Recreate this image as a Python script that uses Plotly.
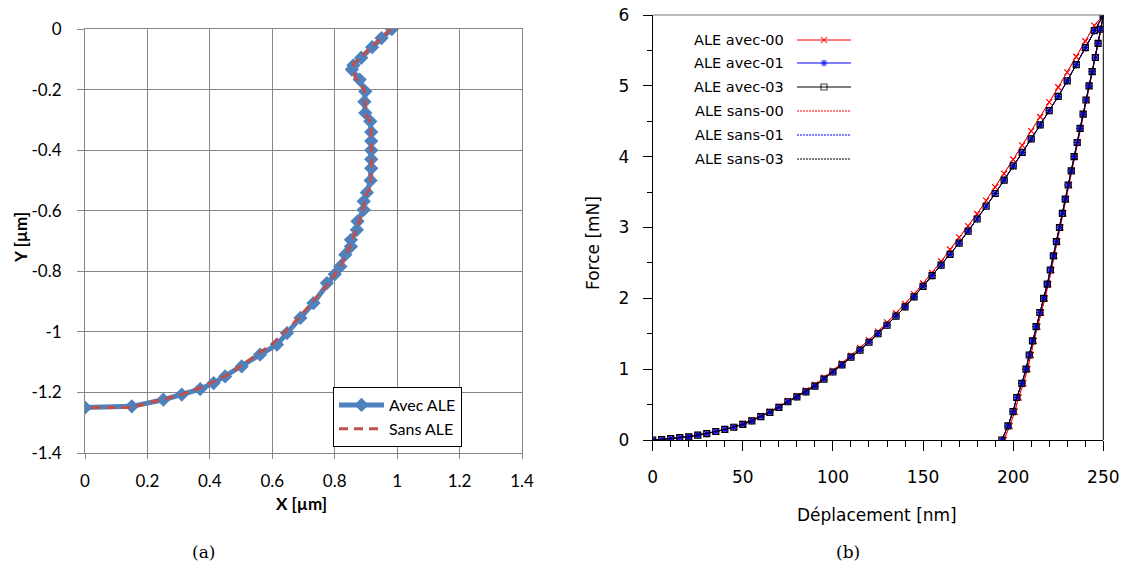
import plotly.graph_objects as go

# ---------------- (a) profile data ----------------
X_AVEC = [0.983, 0.95, 0.92, 0.885, 0.86, 0.855, 0.88, 0.898, 0.895, 0.898, 0.914, 0.917, 0.917,
          0.917, 0.917, 0.917, 0.915, 0.903, 0.893, 0.893, 0.873, 0.871, 0.852, 0.852, 0.834,
          0.818, 0.80, 0.775, 0.732, 0.69, 0.647, 0.615, 0.561, 0.502, 0.449, 0.412, 0.369,
          0.31, 0.251, 0.15, 0.0]
Y_AVEC = [0.0, -0.03, -0.06, -0.095, -0.12, -0.134, -0.167, -0.206, -0.24, -0.277, -0.305, -0.34,
          -0.37, -0.40, -0.43, -0.46, -0.50, -0.54, -0.569, -0.597, -0.635, -0.663, -0.696, -0.718,
          -0.745, -0.784, -0.81, -0.839, -0.905, -0.954, -1.004, -1.042, -1.075, -1.114, -1.147,
          -1.169, -1.189, -1.207, -1.224, -1.246, -1.25]
X_SANS = [0.98, 0.86, 0.865, 0.895, 0.90, 0.915, 0.918, 0.915, 0.90, 0.89, 0.87, 0.848, 0.82, 0.78,
          0.73, 0.67, 0.60, 0.53, 0.46, 0.38, 0.30, 0.20, 0.15, 0.0]
Y_SANS = [0.0, -0.115, -0.16, -0.20, -0.28, -0.31, -0.42, -0.52, -0.55, -0.60, -0.66, -0.72, -0.78,
          -0.84, -0.90, -0.97, -1.04, -1.09, -1.14, -1.18, -1.21, -1.235, -1.25, -1.25]
A_XTICKS = [0, 0.2, 0.4, 0.6, 0.8, 1.0, 1.2, 1.4]
A_XTEXT = ["0", "0.2", "0.4", "0.6", "0.8", "1", "1.2", "1.4"]
A_YTICKS = [0, -0.2, -0.4, -0.6, -0.8, -1.0, -1.2, -1.4]
A_YTEXT = ["0", "-0.2", "-0.4", "-0.6", "-0.8", "-1", "-1.2", "-1.4"]

# ---------------- (b) force-displacement data ----------------
DISP_LOAD = [0, 5, 10, 15, 20, 25, 30, 35, 40, 45, 50, 55, 60, 65, 70, 75, 80, 85, 90, 95, 100,
             105, 110, 115, 120, 125, 130, 135, 140, 145, 150, 155, 160, 165, 170, 175, 180, 185,
             190, 195, 200, 205, 210, 215, 220, 225, 230, 235, 240, 245, 250]
F_LOAD_00 = [0, 0.005, 0.02, 0.035, 0.05, 0.07, 0.09, 0.12, 0.15, 0.18, 0.23, 0.28, 0.34, 0.40,
             0.47, 0.55, 0.62, 0.70, 0.78, 0.88, 0.98, 1.08, 1.19, 1.30, 1.41, 1.53, 1.66, 1.79,
             1.92, 2.06, 2.21, 2.36, 2.52, 2.69, 2.86, 3.02, 3.19, 3.38, 3.57, 3.76, 3.96, 4.16,
             4.36, 4.56, 4.77, 4.98, 5.19, 5.41, 5.63, 5.85, 6.0]
F_LOAD = [0, 0.005, 0.02, 0.035, 0.045, 0.07, 0.09, 0.12, 0.15, 0.18, 0.22, 0.27, 0.33, 0.39,
          0.46, 0.54, 0.61, 0.68, 0.76, 0.86, 0.96, 1.06, 1.17, 1.27, 1.38, 1.50, 1.62, 1.75,
          1.88, 2.02, 2.17, 2.32, 2.47, 2.62, 2.78, 2.95, 3.12, 3.30, 3.48, 3.67, 3.87, 4.06,
          4.25, 4.45, 4.65, 4.85, 5.07, 5.30, 5.54, 5.78, 6.0]
F_UNLOAD = [0, 0.2, 0.4, 0.6, 0.8, 1.0, 1.2, 1.4, 1.6, 1.8, 2.0, 2.2, 2.4, 2.6, 2.8, 3.0, 3.2,
            3.4, 3.6, 3.8, 4.0, 4.2, 4.4, 4.6, 4.8, 5.0, 5.2, 5.4, 5.6, 5.8, 6.0]
DISP_UNLOAD = [193.7, 197.1, 199.9, 202.0, 204.8, 207.1, 208.9, 210.7, 212.7, 214.8, 216.9,
               218.9, 220.6, 222.3, 224.0, 225.7, 227.3, 228.9, 230.5, 232.2, 233.8, 235.5,
               237.1, 238.8, 240.4, 242.1, 243.8, 245.6, 247.1, 248.6, 250.0]
DISP_UNLOAD_00 = [194.8, 198.1, 200.9, 203.0, 205.7, 208.0, 209.8, 211.5, 213.5, 215.5, 217.6,
                  219.5, 221.2, 222.9, 224.5, 226.2, 227.8, 229.4, 231.0, 232.6, 234.2, 235.8,
                  237.4, 239.1, 240.7, 242.3, 244.0, 245.7, 247.2, 248.7, 250.0]
B_SERIES = ["ALE avec-00", "ALE avec-01", "ALE avec-03", "ALE sans-00", "ALE sans-01", "ALE sans-03"]
B_COLORS = ["#ff0000", "#0000ff", "#000000", "#ff0000", "#0000ff", "#000000"]
B_SYMBOLS = ["x-thin-open", "asterisk-open", "square-open", None, None, None]

fig = go.Figure()

# ---- (a) traces
fig.add_trace(go.Scatter(x=X_AVEC, y=Y_AVEC, mode="lines+markers", name="Avec ALE",
                         line=dict(color="#4F81BD", width=5),
                         marker=dict(symbol="diamond", size=11, color="#4F81BD"),
                         xaxis="x", yaxis="y", legend="legend"))
fig.add_trace(go.Scatter(x=X_SANS, y=Y_SANS, mode="lines", name="Sans ALE",
                         line=dict(color="#C0504D", width=3, dash="9px,6px"),
                         xaxis="x", yaxis="y", legend="legend"))

# ---- (b) traces
def curve(load_f, unload_d):
    return DISP_LOAD + unload_d[::-1], load_f + F_UNLOAD[::-1]

data_b = [curve(F_LOAD_00, DISP_UNLOAD_00), curve(F_LOAD, DISP_UNLOAD), curve(F_LOAD, DISP_UNLOAD),
          curve(F_LOAD_00, DISP_UNLOAD_00), curve(F_LOAD, DISP_UNLOAD), curve(F_LOAD, DISP_UNLOAD)]
for i in [3, 4, 5, 0, 1, 2]:
    xs, ys = data_b[i]
    if B_SYMBOLS[i]:
        fig.add_trace(go.Scatter(x=xs, y=ys, mode="lines+markers", name=B_SERIES[i], showlegend=False,
                                 line=dict(color=B_COLORS[i], width=1),
                                 marker=dict(symbol=B_SYMBOLS[i], size=6,
                                             line=dict(color=B_COLORS[i], width=1.2)),
                                 xaxis="x2", yaxis="y2"))
    else:
        fig.add_trace(go.Scatter(x=xs, y=ys, mode="lines", name=B_SERIES[i], showlegend=False,
                                 line=dict(color=B_COLORS[i], width=1, dash="2px,1px"),
                                 xaxis="x2", yaxis="y2"))

# ---- (b) hand-made legend (text on the left, sample on the right)
LEG_ROWS = [40, 63, 87, 111, 135, 159]
annotations = []
for i, name in enumerate(B_SERIES):
    row = LEG_ROWS[i]
    if B_SYMBOLS[i]:
        fig.add_trace(go.Scatter(x=[0, 0.5, 1], y=[row] * 3, mode="lines+markers", showlegend=False,
                                 hoverinfo="skip",
                                 line=dict(color=B_COLORS[i], width=1),
                                 marker=dict(symbol=B_SYMBOLS[i], size=[0, 6, 0],
                                             line=dict(color=B_COLORS[i], width=1.2)),
                                 xaxis="x3", yaxis="y3"))
    else:
        fig.add_trace(go.Scatter(x=[0, 1], y=[row] * 2, mode="lines", showlegend=False,
                                 hoverinfo="skip",
                                 line=dict(color=B_COLORS[i], width=1, dash="2px,1px"),
                                 xaxis="x3", yaxis="y3"))
    annotations.append(dict(text=name, xref="paper", yref="paper", x=786 / 1127, y=1 - row / 570,
                            xanchor="right", yanchor="middle", showarrow=False,
                            font=dict(family="DejaVu Sans", size=14.5, color="black")))

W, H = 1127, 570
grid_a = "#868686"
font_a = dict(family="Lato", size=17, color="black")
font_b = dict(family="DejaVu Sans", size=17, color="black")

annotations += [
    dict(text="<b>Y [µm]</b>", x=21 / W, y=1 - 238 / H, textangle=-90, font=font_a),
    dict(text="<b>X [µm]</b>", x=301 / W, y=1 - 503 / H, font=font_a),
    dict(text="Force [mN]", x=593 / W, y=1 - 243 / H, textangle=-90, font=font_b),
    dict(text="Déplacement [nm]", x=877 / W, y=1 - 515 / H, font=font_b),
    dict(text="(a)", x=203 / W, y=1 - 552 / H, font=dict(family="DejaVu Serif", size=17, color="black")),
    dict(text="(b)", x=848 / W, y=1 - 552 / H, font=dict(family="DejaVu Serif", size=17, color="black")),
]
for a in annotations[-6:]:
    a.update(xref="paper", yref="paper", showarrow=False, xanchor="center", yanchor="middle")

fig.update_layout(
    width=W, height=H, margin=dict(l=0, r=0, t=0, b=0, autoexpand=False),
    paper_bgcolor="white", plot_bgcolor="white", showlegend=True,
    xaxis=dict(domain=[85 / W, 522 / W], range=[0, 1.4], tickvals=A_XTICKS, ticktext=A_XTEXT,
               showgrid=True, gridcolor=grid_a, gridwidth=1, showline=True, linecolor=grid_a,
               mirror=True, ticks="outside", ticklen=5, tickcolor=grid_a, tickfont=font_a,
               ticklabelstandoff=8, zeroline=False, anchor="y", automargin=False),
    yaxis=dict(domain=[1 - 453 / H, 1 - 29 / H], range=[-1.4, 0], tickvals=A_YTICKS, ticktext=A_YTEXT,
               showgrid=True, gridcolor=grid_a, gridwidth=1, showline=True, linecolor=grid_a,
               mirror=True, ticks="outside", ticklen=7, tickcolor=grid_a, tickfont=font_a,
               ticklabelstandoff=12, zeroline=False, anchor="x", automargin=False),
    xaxis2=dict(domain=[652.7 / W, 1103.3 / W], range=[0, 250], dtick=50, showgrid=False,
                showline=True, linecolor="black", ticks="outside", ticklen=10, tickcolor="black",
                minor=dict(dtick=10, ticks="outside", ticklen=6, tickcolor="black"),
                tickfont=font_b, ticklabelstandoff=12, zeroline=False, anchor="y2", automargin=False),
    yaxis2=dict(domain=[1 - 440 / H, 1 - 15 / H], range=[0, 6], dtick=1, showgrid=False,
                showline=True, linecolor="black", ticks="outside", ticklen=9, tickcolor="black",
                minor=dict(dtick=0.5, ticks="outside", ticklen=5, tickcolor="black"),
                tickfont=font_b, ticklabelstandoff=10, zeroline=False, anchor="x2", automargin=False),
    xaxis3=dict(domain=[797 / W, 851 / W], range=[0, 1], visible=False, anchor="y3", automargin=False),
    yaxis3=dict(domain=[1 - 170 / H, 1 - 30 / H], range=[170, 30], visible=False, anchor="x3",
                automargin=False),
    legend=dict(x=333 / W, y=1 - 387 / H, xanchor="left", yanchor="top", bgcolor="white",
                bordercolor="black", borderwidth=1, font=dict(family="Lato", size=16, color="black"),
                itemwidth=45, tracegroupgap=0),
    annotations=annotations,
    shapes=[
        dict(type="line", xref="x2 domain", yref="y2 domain", x0=0, x1=1, y0=1, y1=1,
             line=dict(color="#777777", width=1)),
        dict(type="line", xref="x2 domain", yref="y2 domain", x0=1, x1=1, y0=0, y1=1,
             line=dict(color="black", width=1)),
    ],
)

fig.write_html("out.html", config={"displayModeBar": False},
               post_script="document.body.style.margin='0';")
